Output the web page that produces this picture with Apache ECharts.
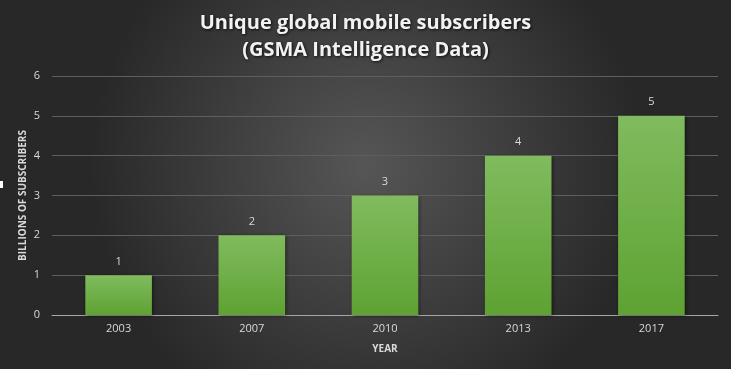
<!DOCTYPE html>
<html><head><meta charset="utf-8">
<script src="https://cdn.jsdelivr.net/npm/echarts@6/dist/echarts.min.js"></script>
<style>html,body{margin:0;padding:0;}#c{width:731px;height:369px;}</style>
</head><body><div id="c"></div>
<script>
const categories = ['2003','2007','2010','2013','2017'];
const subscribers = [1, 2, 3, 4, 5];
const titleLines = ['Unique global mobile subscribers', '(GSMA Intelligence Data)'];
const yAxisTitle = 'BILLIONS OF SUBSCRIBERS';
const xAxisTitle = 'YEAR';

const chart = echarts.init(document.getElementById('c'));
chart.setOption({
  backgroundColor: {
    type: 'radial', x: 0.5, y: 0.45, r: 0.75,
    colorStops: [{offset: 0, color: '#565656'}, {offset: 1, color: '#282828'}]
  },
  graphic: [{type: 'rect', left: 0, top: 181, shape: {width: 3, height: 7}, style: {fill: '#ffffff'}}],
  title: {
    text: titleLines.join('\n'),
    left: 'center', top: 5,
    textStyle: {
      color: '#f2f2f2', fontSize: 20, fontWeight: 'bold', fontFamily: 'Open Sans',
      lineHeight: 27, textShadowColor: 'rgba(0,0,0,0.8)', textShadowBlur: 3, textShadowOffsetX: 1, textShadowOffsetY: 1
    }
  },
  grid: {left: 52, right: 13, top: 76, bottom: 54},
  xAxis: {
    type: 'category', data: categories,
    name: xAxisTitle, nameLocation: 'middle', nameGap: 29,
    nameTextStyle: {color: '#d9d9d9', fontSize: 10, fontWeight: 'bold', fontFamily: 'Open Sans'},
    axisLine: {lineStyle: {color: '#a6a6a6', width: 1}},
    axisTick: {show: false},
    axisLabel: {color: '#d9d9d9', fontSize: 11, margin: 8, fontFamily: 'Open Sans'}
  },
  yAxis: {
    type: 'value', min: 0, max: 6, interval: 1,
    name: yAxisTitle, nameLocation: 'middle', nameGap: 24, nameRotate: 90, nameMoveOverlap: false,
    nameTextStyle: {color: '#d9d9d9', fontSize: 10, fontWeight: 'bold', fontFamily: 'Open Sans'},
    axisLine: {show: false}, axisTick: {show: false},
    axisLabel: {color: '#d9d9d9', fontSize: 11, margin: 12, fontFamily: 'Open Sans'},
    splitLine: {lineStyle: {color: '#5e5e5e', width: 1}}
  },
  series: [{
    type: 'bar', data: subscribers, barWidth: '50%',
    itemStyle: {
      color: {type: 'linear', x: 0, y: 0, x2: 0, y2: 1,
        colorStops: [{offset: 0, color: '#80bb5e'}, {offset: 1, color: '#5ea232'}]},
      shadowColor: 'rgba(0,0,0,0.5)', shadowBlur: 4, shadowOffsetX: 1, shadowOffsetY: 1
    },
    label: {show: true, position: 'top', distance: 8, color: '#d9d9d9', fontSize: 11, fontFamily: 'Open Sans'}
  }]
});
</script></body></html>
